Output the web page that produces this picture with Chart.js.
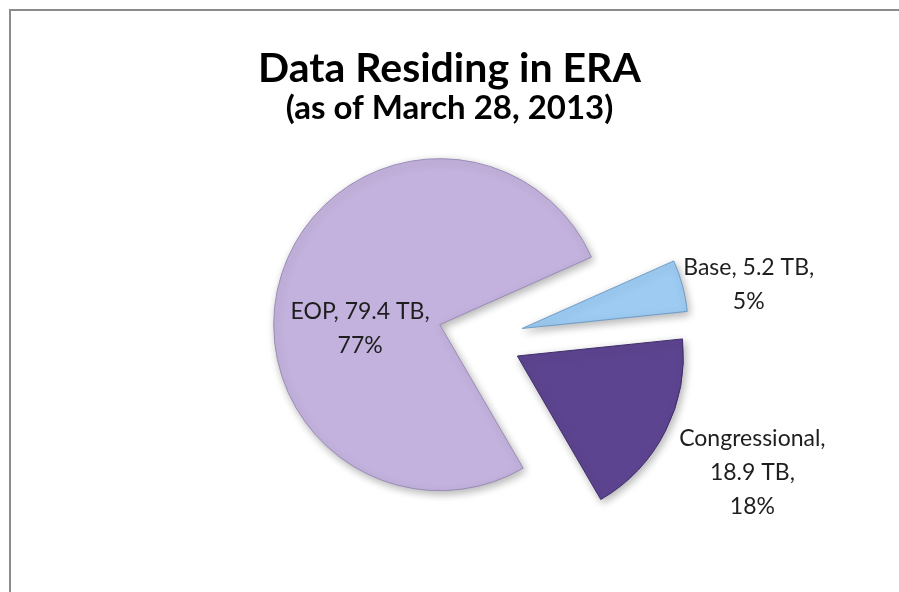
<!DOCTYPE html>
<html>
<head>
<meta charset="utf-8">
<script src="https://cdn.jsdelivr.net/npm/chart.js@4"></script>
<style>
html, body { margin: 0; padding: 0; background: #ffffff; overflow: hidden; }
#wrap { position: relative; width: 899px; height: 592px; overflow: hidden; background: #ffffff; }
#c { position: absolute; left: 0; top: 0; }
#topline { position: absolute; left: 9px; top: 9px; width: 890px; height: 2px; background: #8c8c8c; }
#leftline { position: absolute; left: 9px; top: 9px; width: 2px; height: 583px; background: #8c8c8c; }
</style>
</head>
<body>
<div id="wrap">
  <canvas id="c" width="899" height="592"></canvas>
  <div id="topline"></div>
  <div id="leftline"></div>
</div>
<script>
// ---- data ----
const categories = ['Base', 'Congressional', 'EOP'];
const sizesTB = [5.2, 18.9, 79.4];
const unit = 'TB';
const titleText = 'Data Residing in ERA';
const subtitleText = '(as of March 28, 2013)';

// ---- styles ----
const sliceColors = ['#9dcbf2', '#5d4490', '#c2b2dd'];
const sliceBorders = ['#6f9cc8', '#3f2c6a', '#9a8bb8'];
const explodeDistances = [40, 38, 46];   // how far each slice is pulled out (px)
const pieShiftX = 34;                     // horizontal shift of the pie relative to the title
const labelPlacement = [                  // label anchor: distance (x radius) and angle tweak (deg)
  { k: 1.39, shift: 4.1, wrapName: false },
  { k: 1.58, shift: -0.6, wrapName: true },
  { k: 0.48, shift: -20.6, wrapName: false }
];
const FONT = 'Lato, "Open Sans", "DejaVu Sans", sans-serif';

const total = sizesTB.reduce((a, b) => a + b, 0);
const percents = sizesTB.map(v => Math.round(v / total * 100) + '%');

const explodePlugin = {
  id: 'explode',
  afterDatasetUpdate(chart, args, opts) {
    const meta = chart.getDatasetMeta(args.index);
    meta.data.forEach((arc, i) => {
      const mid = (arc.startAngle + arc.endAngle) / 2;
      const d = (opts.distances && opts.distances[i]) || 0;
      arc.x += Math.cos(mid) * d + (opts.shiftX || 0);
      arc.y += Math.sin(mid) * d;
    });
  }
};

const shadowPlugin = {
  id: 'sliceShadow',
  beforeDatasetDraw(chart) {
    const ctx = chart.ctx;
    ctx.save();
    ctx.shadowColor = 'rgba(0,0,0,0.3)';
    ctx.shadowBlur = 8;
    ctx.shadowOffsetX = 2;
    ctx.shadowOffsetY = 3;
  },
  afterDatasetDraw(chart) {
    chart.ctx.restore();
  }
};

const labelPlugin = {
  id: 'sliceLabels',
  afterDatasetsDraw(chart, args, opts) {
    const ctx = chart.ctx;
    const meta = chart.getDatasetMeta(0);
    ctx.save();
    ctx.font = opts.size + 'px ' + FONT;
    ctx.fillStyle = opts.color;
    ctx.textAlign = 'center';
    ctx.textBaseline = 'middle';
    meta.data.forEach((arc, i) => {
      const p = labelPlacement[i];
      const mid = (arc.startAngle + arc.endAngle) / 2 + p.shift * Math.PI / 180;
      const r = arc.outerRadius * p.k;
      const x = arc.x + Math.cos(mid) * r;
      const y = arc.y + Math.sin(mid) * r;
      const lines = p.wrapName
        ? [categories[i] + ',', sizesTB[i] + ' ' + unit + ',', percents[i]]
        : [categories[i] + ', ' + sizesTB[i] + ' ' + unit + ',', percents[i]];
      const lh = opts.lineHeight;
      const y0 = y - (lines.length - 1) * lh / 2;
      lines.forEach((t, j) => ctx.fillText(t, x, y0 + j * lh));
    });
    ctx.restore();
  }
};

new Chart(document.getElementById('c'), {
  type: 'pie',
  data: {
    labels: categories,
    datasets: [{
      data: sizesTB,
      backgroundColor: sliceColors,
      borderColor: sliceBorders,
      borderWidth: 1
    }]
  },
  options: {
    responsive: false,
    animation: false,
    events: [],
    rotation: 66,
    radius: 166,
    layout: { padding: { left: 0, right: 0, top: 0, bottom: 43 } },
    plugins: {
      legend: { display: false },
      tooltip: { enabled: false },
      title: {
        display: true,
        text: titleText,
        color: '#000000',
        font: { family: FONT, size: 41, weight: 'bold', lineHeight: 1.0 },
        padding: { top: 48, bottom: 0 }
      },
      subtitle: {
        display: true,
        text: subtitleText,
        color: '#000000',
        font: { family: FONT, size: 33, weight: 'bold', lineHeight: 1.2 },
        padding: { top: 0, bottom: 0 }
      },
      explode: { distances: explodeDistances, shiftX: pieShiftX },
      sliceLabels: { size: 23, lineHeight: 34, color: '#1e1e1e' }
    }
  },
  plugins: [explodePlugin, shadowPlugin, labelPlugin]
});
</script>
</body>
</html>
